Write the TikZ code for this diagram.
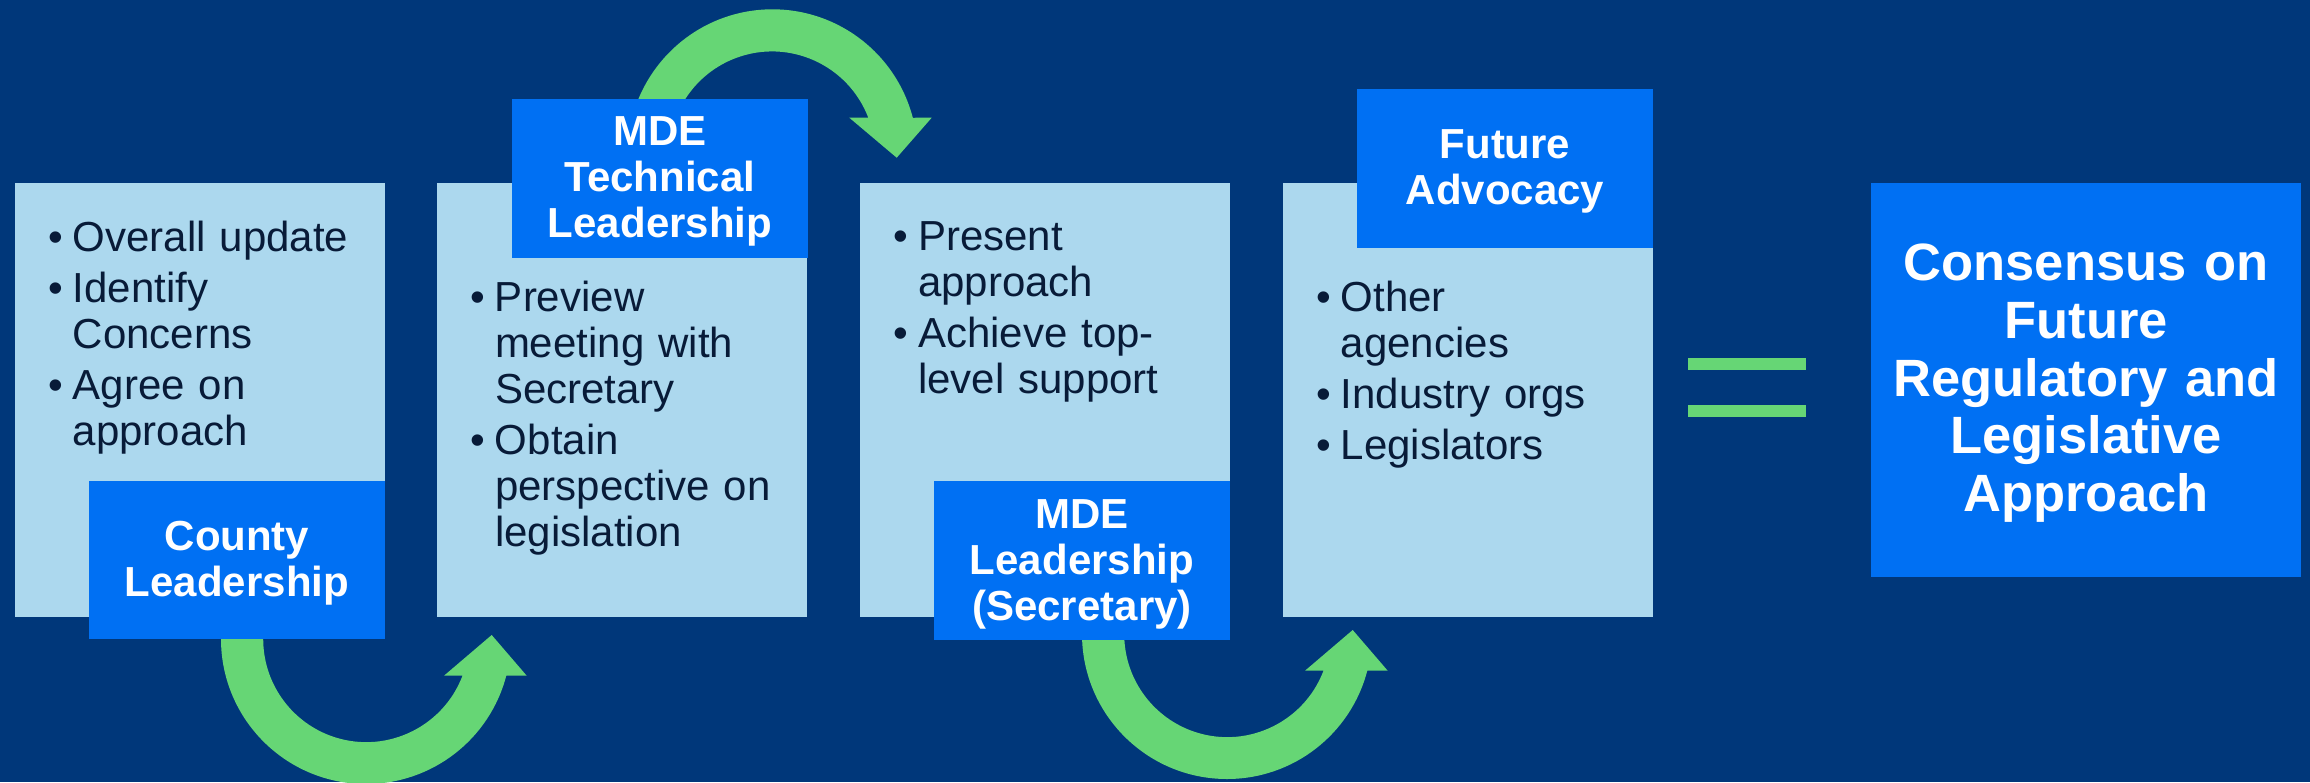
\documentclass[tikz,border=0pt]{standalone}
\usepackage{fontspec}
\setmainfont{Liberation Sans}
\definecolor{bgnavy}{RGB}{0,55,122}
\definecolor{paleblue}{RGB}{172,216,238}
\definecolor{brightblue}{RGB}{0,112,243}
\definecolor{arrowgreen}{RGB}{102,214,117}
\definecolor{inktext}{RGB}{8,27,56}
\newcommand{\bul}{\leavevmode\llap{\textbullet\hspace{10pt}}}
\tikzset{
  palebox/.style={fill=paleblue},
  bluebox/.style={fill=brightblue},
  greenshape/.style={fill=arrowgreen},
  bullettext/.style={anchor=base west, inner sep=0pt, text width=320pt, align=left,
    text=inktext, font=\fontsize{42}{46}\selectfont},
  headertext/.style={anchor=base, inner sep=0pt, text width=296pt, align=center,
    text=white, font=\bfseries\fontsize{42}{46}\selectfont},
  bigtext/.style={anchor=base, inner sep=0pt, text width=430pt, align=center,
    text=white, font=\bfseries\fontsize{52.5}{57.7}\selectfont}
}
\begin{document}
\begin{tikzpicture}[x=1pt,y=1pt]
\useasboundingbox (0,0) rectangle (2310,-782);
\fill[bgnavy] (0,0) rectangle (2310,-782);
\clip (0,0) rectangle (2310,-782);

% curved arrows
\fill[greenshape] (366,-639) ++(180:145) arc[start angle=180,end angle=345.4,radius=145]
  -- (526.7,-675.7) -- (491.7,-635) -- (444,-675.7) -- (462.5,-675.7)
  arc[start angle=339.2,end angle=180,radius=103] -- cycle;
\begin{scope}[shift={(861,5)}]
\fill[greenshape] (366,-639) ++(180:145) arc[start angle=180,end angle=345.4,radius=145]
  -- (526.7,-675.7) -- (491.7,-635) -- (444,-675.7) -- (462.5,-675.7)
  arc[start angle=339.2,end angle=180,radius=103] -- cycle;
\end{scope}
\fill[greenshape] (772.5,-154.3) ++(180:145) arc[start angle=180,end angle=14.6,radius=145]
  -- (931.7,-117.7) -- (896.7,-157.7) -- (849.3,-117.7) -- (868.3,-117.7)
  arc[start angle=20.9,end angle=180,radius=103] -- cycle;

% pale boxes
\fill[palebox] (15,-183) rectangle (385,-617);
\fill[palebox] (437,-183) rectangle (806.5,-617);
\fill[palebox] (860,-182.5) rectangle (1230,-617);
\fill[palebox] (1283,-182.5) rectangle (1653,-617);

% blue boxes
\fill[bluebox] (89,-481) rectangle (385,-639);
\fill[bluebox] (512,-99) rectangle (808,-258);
\fill[bluebox] (934,-481) rectangle (1230,-640);
\fill[bluebox] (1357,-89) rectangle (1653,-248);
\fill[bluebox] (1871,-183) rectangle (2301,-577);

% equals sign
\fill[greenshape] (1688,-358) rectangle (1806,-369.5);
\fill[greenshape] (1688,-405) rectangle (1806,-416.7);

% bullet texts
\node[bullettext] (b1) at (72.7,-251.7) {\bul Overall update\\[5pt]\bul Identify\\Concerns\\[5pt]\bul Agree on\\approach};
\node[bullettext] (b2) at (494.8,-311.7) {\bul Preview\\meeting with\\Secretary\\[5pt]\bul Obtain\\perspective on\\legislation};
\node[bullettext] (b3) at (917.8,-250.5) {\bul Present\\approach\\[5pt]\bul Achieve top-\\level support};
\node[bullettext] (b4) at (1340.7,-311.7) {\bul Other\\agencies\\[5pt]\bul Industry orgs\\[5pt]\bul Legislators};

% header texts
\node[headertext] (h1) at (237,-550) {County\\Leadership};
\node[headertext] (h2) at (660,-145.7) {MDE\\Technical\\Leadership};
\node[headertext] (h3) at (1082,-528.3) {MDE\\Leadership\\(Secretary)};
\node[headertext] (h4) at (1505,-158.3) {Future\\Advocacy};
\node[bigtext] (res) at (2086,-280.7) {Consensus on\\Future\\Regulatory and\\Legislative\\Approach};
\end{tikzpicture}
\end{document}
